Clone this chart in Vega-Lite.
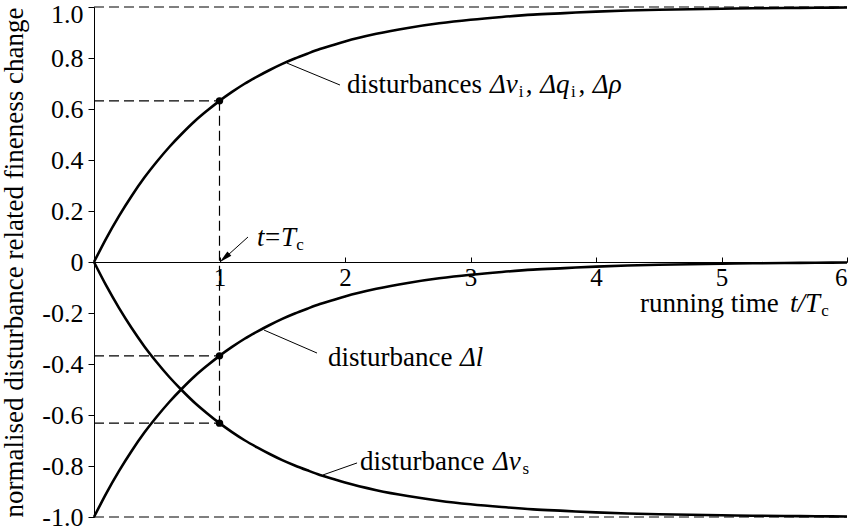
{
  "$schema": "https://vega.github.io/schema/vega-lite/v6.json",
  "width": 753,
  "height": 510,
  "autosize": {"type": "none"},
  "padding": {"left": 94, "top": 7, "right": 8, "bottom": 15},
  "background": "white",
  "config": {
    "view": {"stroke": null},
    "font": "Liberation Serif, Times New Roman, serif",
    "text": {"font": "Liberation Serif, Times New Roman, serif", "color": "black"}
  },
  "datasets": {
    "curves": [
      {"t": 0.0, "rise": 0.0, "fall": 0.0, "decay": -1.0},
      {"t": 0.1, "rise": 0.095, "fall": -0.095, "decay": -0.905},
      {"t": 0.2, "rise": 0.181, "fall": -0.181, "decay": -0.819},
      {"t": 0.3, "rise": 0.259, "fall": -0.259, "decay": -0.741},
      {"t": 0.4, "rise": 0.33, "fall": -0.33, "decay": -0.67},
      {"t": 0.5, "rise": 0.393, "fall": -0.393, "decay": -0.607},
      {"t": 0.6, "rise": 0.451, "fall": -0.451, "decay": -0.549},
      {"t": 0.7, "rise": 0.503, "fall": -0.503, "decay": -0.497},
      {"t": 0.8, "rise": 0.551, "fall": -0.551, "decay": -0.449},
      {"t": 0.9, "rise": 0.593, "fall": -0.593, "decay": -0.407},
      {"t": 1.0, "rise": 0.632, "fall": -0.632, "decay": -0.368},
      {"t": 1.1, "rise": 0.667, "fall": -0.667, "decay": -0.333},
      {"t": 1.2, "rise": 0.699, "fall": -0.699, "decay": -0.301},
      {"t": 1.3, "rise": 0.727, "fall": -0.727, "decay": -0.273},
      {"t": 1.4, "rise": 0.753, "fall": -0.753, "decay": -0.247},
      {"t": 1.5, "rise": 0.777, "fall": -0.777, "decay": -0.223},
      {"t": 1.6, "rise": 0.798, "fall": -0.798, "decay": -0.202},
      {"t": 1.7, "rise": 0.817, "fall": -0.817, "decay": -0.183},
      {"t": 1.8, "rise": 0.835, "fall": -0.835, "decay": -0.165},
      {"t": 1.9, "rise": 0.85, "fall": -0.85, "decay": -0.15},
      {"t": 2.0, "rise": 0.865, "fall": -0.865, "decay": -0.135},
      {"t": 2.25, "rise": 0.895, "fall": -0.895, "decay": -0.105},
      {"t": 2.5, "rise": 0.918, "fall": -0.918, "decay": -0.082},
      {"t": 2.75, "rise": 0.936, "fall": -0.936, "decay": -0.064},
      {"t": 3.0, "rise": 0.95, "fall": -0.95, "decay": -0.05},
      {"t": 3.25, "rise": 0.961, "fall": -0.961, "decay": -0.039},
      {"t": 3.5, "rise": 0.97, "fall": -0.97, "decay": -0.03},
      {"t": 3.75, "rise": 0.976, "fall": -0.976, "decay": -0.024},
      {"t": 4.0, "rise": 0.982, "fall": -0.982, "decay": -0.018},
      {"t": 4.25, "rise": 0.986, "fall": -0.986, "decay": -0.014},
      {"t": 4.5, "rise": 0.989, "fall": -0.989, "decay": -0.011},
      {"t": 4.75, "rise": 0.991, "fall": -0.991, "decay": -0.009},
      {"t": 5.0, "rise": 0.993, "fall": -0.993, "decay": -0.007},
      {"t": 5.25, "rise": 0.995, "fall": -0.995, "decay": -0.005},
      {"t": 5.5, "rise": 0.996, "fall": -0.996, "decay": -0.004},
      {"t": 5.75, "rise": 0.997, "fall": -0.997, "decay": -0.003},
      {"t": 6.0, "rise": 0.998, "fall": -0.998, "decay": -0.002}
    ],
    "dashes": [
      {"x": 0, "y": 1, "x2": 6, "y2": 1},
      {"x": 0, "y": -1, "x2": 6, "y2": -1},
      {"x": 0, "y": 0.632, "x2": 1, "y2": 0.632},
      {"x": 0, "y": -0.368, "x2": 1, "y2": -0.368},
      {"x": 0, "y": -0.632, "x2": 1, "y2": -0.632},
      {"x": 1, "y": 0.632, "x2": 1, "y2": -0.632}
    ],
    "leaders": [
      {"x": 1.538, "y": 0.78, "x2": 1.96, "y2": 0.694},
      {"x": 1.355, "y": -0.267, "x2": 1.777, "y2": -0.357},
      {"x": 1.825, "y": -0.835, "x2": 2.096, "y2": -0.788},
      {"x": 1.227, "y": 0.098, "x2": 1.04, "y2": 0.015}
    ],
    "marked": [
      {"x": 1, "y": 0.632},
      {"x": 1, "y": -0.368},
      {"x": 1, "y": -0.632}
    ],
    "arrowhead": [
      {"x": 1.04, "y": 0.016}
    ],
    "plainText": [
      {"x": 2.016, "y": 0.663, "text": "disturbances"},
      {"x": 3.44, "y": 0.663, "text": ","},
      {"x": 3.86, "y": 0.663, "text": ","},
      {"x": 1.865, "y": -0.408, "text": "disturbance"},
      {"x": 2.12, "y": -0.816, "text": "disturbance"},
      {"x": 4.351, "y": -0.196, "text": "running time"},
      {"x": 1.363, "y": 0.063, "text": "="}
    ],
    "italicText": [
      {"x": 3.155, "y": 0.663, "text": "Δv"},
      {"x": 3.555, "y": 0.663, "text": "Δq"},
      {"x": 3.975, "y": 0.663, "text": "Δρ"},
      {"x": 2.916, "y": -0.408, "text": "Δl"},
      {"x": 3.179, "y": -0.816, "text": "Δv"},
      {"x": 5.546, "y": -0.196, "text": "t/T"},
      {"x": 1.299, "y": 0.063, "text": "t"},
      {"x": 1.49, "y": 0.063, "text": "T"}
    ],
    "subText": [
      {"x": 3.385, "y": 0.647, "text": "i"},
      {"x": 3.8, "y": 0.647, "text": "i"},
      {"x": 3.415, "y": -0.831, "text": "s"},
      {"x": 5.795, "y": -0.212, "text": "c"},
      {"x": 1.612, "y": 0.047, "text": "c"}
    ]
  },
  "layer": [
    {
      "data": {"name": "curves"},
      "transform": [{"fold": ["rise", "fall", "decay"], "as": ["series", "v"]}],
      "mark": {"type": "line", "color": "black", "strokeWidth": 2.6, "interpolate": "monotone"},
      "encoding": {
        "x": {
          "field": "t", "type": "quantitative",
          "scale": {"domain": [0, 6], "nice": false, "zero": false},
          "axis": {
            "orient": "bottom", "offset": -255,
            "values": [1, 2, 3, 4, 5, 6],
            "format": "d",
            "grid": false, "title": null,
            "domainColor": "black", "domainWidth": 1,
            "tickColor": "black", "tickSize": -5, "tickWidth": 1,
            "labelFont": "Liberation Serif, Times New Roman, serif", "labelFontSize": 25, "labelColor": "black",
            "labelPadding": 8, "labelBaseline": "top"
          }
        },
        "y": {
          "field": "v", "type": "quantitative",
          "scale": {"domain": [-1, 1], "nice": false, "zero": false},
          "axis": {
            "values": [-1, -0.8, -0.6, -0.4, -0.2, 0, 0.2, 0.4, 0.6, 0.8, 1],
            "labelExpr": "datum.value == 0 ? '0' : (datum.value < 0 ? '-' + format(-datum.value, '.1f') : format(datum.value, '.1f'))",
            "grid": false,
            "domainColor": "black", "domainWidth": 1,
            "tickColor": "black", "tickSize": 6, "tickWidth": 1,
            "labelFont": "Liberation Serif, Times New Roman, serif", "labelFontSize": 26, "labelColor": "black",
            "labelPadding": 5,
            "labelOffset": {"condition": {"test": "datum.value == 1", "value": 7}, "value": 0},
            "title": "normalised disturbance related fineness change",
            "titleFont": "Liberation Serif, Times New Roman, serif", "titleFontSize": 27, "titleFontWeight": "normal",
            "titleColor": "black", "titleAngle": -90, "titleX": -80, "titleY": 255,
            "titleAlign": "center", "titleBaseline": "middle"
          }
        },
        "detail": {"field": "series"}
      }
    },
    {
      "data": {"name": "dashes"},
      "mark": {"type": "rule", "color": "black", "strokeWidth": 1.2, "strokeDash": [10, 5]},
      "encoding": {
        "x": {"field": "x", "type": "quantitative"},
        "y": {"field": "y", "type": "quantitative"},
        "x2": {"field": "x2"},
        "y2": {"field": "y2"}
      }
    },
    {
      "data": {"name": "leaders"},
      "mark": {"type": "rule", "color": "black", "strokeWidth": 1},
      "encoding": {
        "x": {"field": "x", "type": "quantitative"},
        "y": {"field": "y", "type": "quantitative"},
        "x2": {"field": "x2"},
        "y2": {"field": "y2"}
      }
    },
    {
      "data": {"name": "arrowhead"},
      "mark": {"type": "point", "shape": "M0,-1L0.45,1L-0.45,1Z", "filled": true, "color": "black", "opacity": 1, "size": 170, "angle": 228},
      "encoding": {
        "x": {"field": "x", "type": "quantitative"},
        "y": {"field": "y", "type": "quantitative"}
      }
    },
    {
      "data": {"name": "marked"},
      "mark": {"type": "point", "shape": "circle", "filled": true, "color": "black", "opacity": 1, "size": 55},
      "encoding": {
        "x": {"field": "x", "type": "quantitative"},
        "y": {"field": "y", "type": "quantitative"}
      }
    },
    {
      "data": {"name": "plainText"},
      "mark": {"type": "text", "fontSize": 27, "align": "left", "baseline": "alphabetic"},
      "encoding": {
        "x": {"field": "x", "type": "quantitative"},
        "y": {"field": "y", "type": "quantitative"},
        "text": {"field": "text"}
      }
    },
    {
      "data": {"name": "italicText"},
      "mark": {"type": "text", "fontSize": 27, "fontStyle": "italic", "align": "left", "baseline": "alphabetic"},
      "encoding": {
        "x": {"field": "x", "type": "quantitative"},
        "y": {"field": "y", "type": "quantitative"},
        "text": {"field": "text"}
      }
    },
    {
      "data": {"name": "subText"},
      "mark": {"type": "text", "fontSize": 17, "align": "left", "baseline": "alphabetic"},
      "encoding": {
        "x": {"field": "x", "type": "quantitative"},
        "y": {"field": "y", "type": "quantitative"},
        "text": {"field": "text"}
      }
    }
  ]
}
